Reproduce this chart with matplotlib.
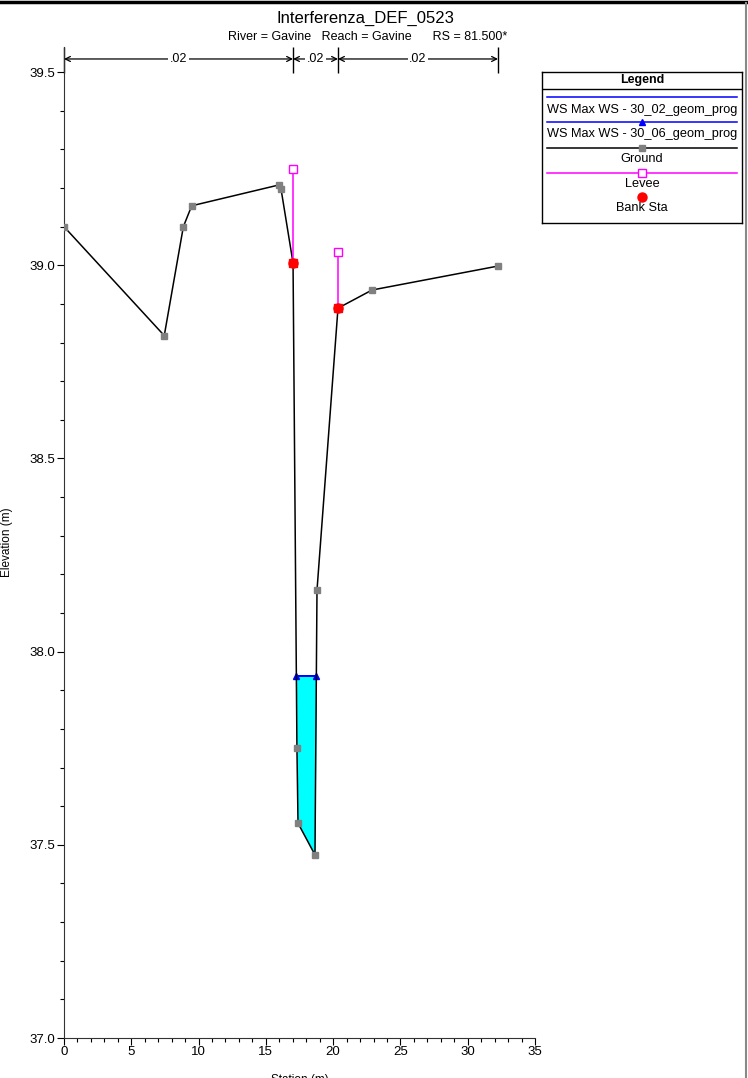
import numpy as np
import matplotlib
matplotlib.use('Agg')
import matplotlib.pyplot as plt
from matplotlib.lines import Line2D
from matplotlib.ticker import MultipleLocator

# cross section data (station m, elevation m)
station = [0.0, 7.45, 8.87, 9.49, 15.98, 16.13, 17.02, 17.31, 17.39, 18.65, 18.80, 20.36, 22.89, 32.25]
ground = [39.10, 38.818, 39.10, 39.154, 39.208, 39.197, 39.006, 37.75, 37.556, 37.474, 38.159, 38.889, 38.936, 38.998]
bank_sta = [17.02, 20.36]
levee_sta = [17.02, 20.36]
levee_elev = [39.25, 39.035]
ws_02 = 37.937
ws_06 = 37.937
n_sta = [0.0, 17.02, 20.36, 32.25]
n_vals = ['.02', '.02', '.02']

NARROW = ['Liberation Sans Narrow', 'Liberation Sans', 'DejaVu Sans']
REG = ['Liberation Sans', 'DejaVu Sans']

fig = plt.figure(figsize=(7.48, 10.78), dpi=100)
ax = fig.add_axes([64/748, 1-1038/1078, (535-64)/748, (1038-47)/1078])

sta = np.array(station)
elev = np.array(ground)

# water surface: where ground crosses the ws level
def crossings(ws):
    xs = []
    for i in range(len(sta) - 1):
        a, b = elev[i] - ws, elev[i+1] - ws
        if a * b < 0:
            t = a / (a - b)
            xs.append(sta[i] + t * (sta[i+1] - sta[i]))
    return xs[0], xs[-1]

xl, xr = crossings(ws_02)
xx = np.linspace(xl, xr, 2000)
gg = np.interp(xx, sta, elev)
ax.fill_between(xx, gg, ws_02, where=gg < ws_02, color='#00ffff', lw=0, zorder=2)

ax.plot([xl, xr], [ws_02, ws_02], color='blue', lw=1.3, zorder=3)
xl6, xr6 = crossings(ws_06)
ax.plot([xl6, xr6], [ws_06, ws_06], color='blue', lw=1.3, marker='^', ms=4, zorder=3)

ax.plot(sta, elev, color='black', lw=1.1, marker='s', ms=4, mfc='#808080', mec='#808080', zorder=4)

bank_elev = np.interp(bank_sta, sta, elev)
for x, b, lv in zip(levee_sta, bank_elev, levee_elev):
    ax.plot([x, x], [b, lv], color='magenta', lw=1.1, zorder=5)
    ax.plot([x], [lv], ls='none', marker='s', ms=6, mfc='white', mec='magenta', mew=1, zorder=6)
ax.plot(bank_sta, bank_elev, ls='none', marker='s', ms=5.5, color='red', zorder=7)
ax.plot(bank_sta, bank_elev, ls='none', marker='o', ms=6.5, color='red', zorder=7)

# manning n bars on top
ya = 39.534
ax.vlines(n_sta, 39.497, 39.565, color='black', lw=1, clip_on=False)
for i, nv in enumerate(n_vals):
    x0, x1 = n_sta[i], n_sta[i+1]
    ax.annotate('', xy=(x0, ya), xytext=(x1, ya),
                arrowprops=dict(arrowstyle='<->', lw=0.9, shrinkA=0, shrinkB=0,
                                mutation_scale=9), annotation_clip=False)
    ax.text((x0 + x1) / 2, ya, nv, ha='center', va='center', fontsize=9, family=NARROW,
            bbox=dict(fc='white', ec='none', pad=1.2))

ax.set_xlim(0, 35)
ax.set_ylim(37.0, 39.565)
ax.set_yticks([37.0, 37.5, 38.0, 38.5, 39.0, 39.5])
ax.set_yticklabels(['37.0', '37.5', '38.0', '38.5', '39.0', '39.5'])
ax.set_xticks([0, 5, 10, 15, 20, 25, 30, 35])
ax.xaxis.set_minor_locator(MultipleLocator(1))
ax.yaxis.set_minor_locator(MultipleLocator(0.1))
ax.tick_params(which='major', length=5, width=0.8, labelsize=9.5, pad=1)
ax.tick_params(which='minor', length=3, width=0.8)
for lab in ax.get_xticklabels() + ax.get_yticklabels():
    lab.set_family(NARROW)
ax.spines['top'].set_visible(False)
ax.spines['right'].set_visible(False)
ax.spines['left'].set_color('#333333')
ax.spines['bottom'].set_color('#333333')
ax.set_xlabel('Station (m)', fontsize=8.5, family=REG, labelpad=11)
ax.set_ylabel('Elevation (m)', fontsize=8.5, family=REG, labelpad=12)

fig.text(365/748, 1-18/1078, 'Interferenza_DEF_0523', ha='center', va='center', fontsize=12, family=NARROW)
fig.text(368/748, 1-37/1078, 'River = Gavine   Reach = Gavine      RS = 81.500*',
         ha='center', va='center', fontsize=9, family=NARROW)

# legend box
lg = fig.add_axes([541.7/748, 1-222.7/1078, 200.6/748, 150.4/1078])
lg.set_xlim(0, 200.6)
lg.set_ylim(150.4, 0)
lg.set_xticks([])
lg.set_yticks([])
for s in lg.spines.values():
    s.set_linewidth(1)
cx = 100.3
lg.text(cx, 8, 'Legend', ha='center', va='center', fontsize=9, weight='bold', family=REG)
lg.plot([0, 200.6], [17, 17], color='black', lw=1)
lg.plot([5.6, 195], [25, 25], color='blue', lw=1.1)
lg.text(cx, 37.7, 'WS Max WS - 30_02_geom_prog', ha='center', va='center', fontsize=9.2, family=REG)
lg.plot([5.6, 195], [49.7, 49.7], color='blue', lw=1.1)
lg.plot([cx], [49.7], marker='^', ms=4, color='blue')
lg.text(cx, 61.7, 'WS Max WS - 30_06_geom_prog', ha='center', va='center', fontsize=9.2, family=REG)
lg.plot([5.6, 195], [75.4, 75.4], color='black', lw=1.1)
lg.plot([cx], [75.4], marker='s', ms=4, color='#808080')
lg.text(cx, 86.7, 'Ground', ha='center', va='center', fontsize=9.2, family=REG)
lg.plot([5.6, 195], [100.7, 100.7], color='magenta', lw=1.1)
lg.plot([cx], [100.7], marker='s', ms=6, mfc='white', mec='magenta')
lg.text(cx, 111.7, 'Levee', ha='center', va='center', fontsize=9.2, family=REG)
lg.plot([cx], [125], marker='o', ms=6.5, color='red')
lg.text(cx, 136, 'Bank Sta', ha='center', va='center', fontsize=9.2, family=REG)

# window frame edges
fig.add_artist(Line2D([0, 1], [1-2/1078, 1-2/1078], color='black', lw=2.5))
fig.add_artist(Line2D([745.5/748, 745.5/748], [0, 1-3/1078], color='#888888', lw=1.5))

fig.savefig('out.png', dpi=100)
